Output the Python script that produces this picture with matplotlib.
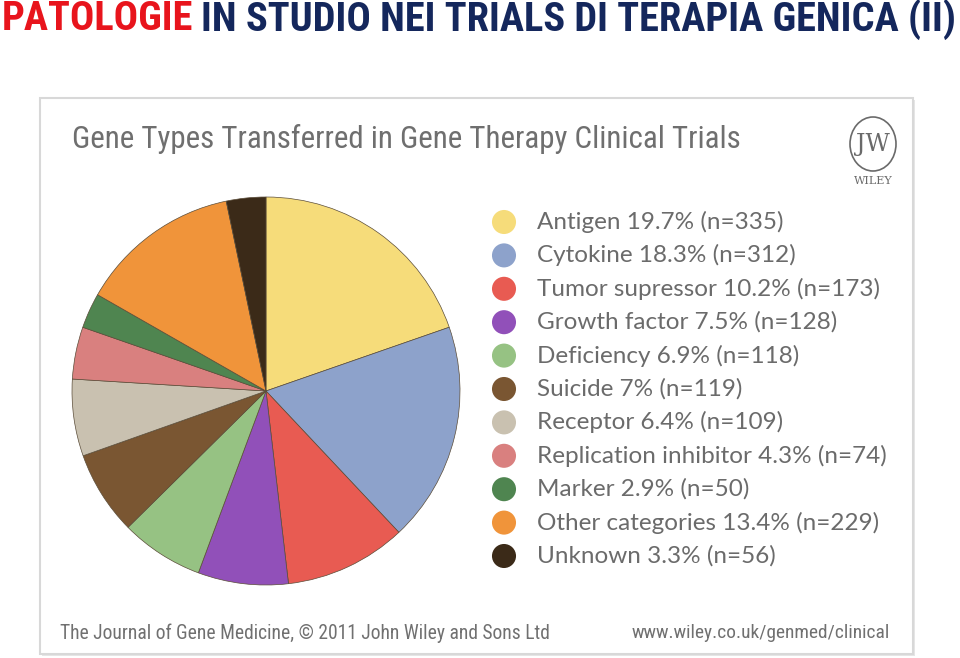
import matplotlib
matplotlib.use("Agg")
import matplotlib.pyplot as plt
from matplotlib.patches import Rectangle, Ellipse
from matplotlib import font_manager

W, H = 960, 658
DPI = 100

fl = font_manager.fontManager.ttflist
names = {f.name for f in fl}
narrow_family, narrow_stretch = 'Liberation Sans', 'normal'
for cand in ['Liberation Sans Narrow', 'Roboto Condensed', 'Open Sans Condensed',
             'Noto Sans Condensed', 'DejaVu Sans Condensed']:
    if cand in names:
        narrow_family = cand
        break
else:
    for f in fl:
        if str(f.stretch) in ('condensed', 'semi-condensed', '500', '400') and f.name in (
                'DejaVu Sans', 'Noto Sans', 'Open Sans', 'Roboto'):
            if str(f.stretch) in ('condensed', 'semi-condensed'):
                narrow_family, narrow_stretch = f.name, f.stretch
                break
body = 'Lato'

categories = ["Antigen", "Cytokine", "Tumor supressor", "Growth factor", "Deficiency",
              "Suicide", "Receptor", "Replication inhibitor", "Marker",
              "Other categories", "Unknown"]
percent_labels = ["19.7%", "18.3%", "10.2%", "7.5%", "6.9%", "7%", "6.4%", "4.3%",
                  "2.9%", "13.4%", "3.3%"]
counts = [335, 312, 173, 128, 118, 119, 109, 74, 50, 229, 56]
colors = ["#F6DC7A", "#8DA2CB", "#E85B52", "#9150B9", "#96C283", "#7A5632",
          "#C9C1B0", "#D9807F", "#4F8550", "#F0943A", "#3B2A18"]

fig = plt.figure(figsize=(W / DPI, H / DPI), dpi=DPI)
fig.patch.set_facecolor("white")

ov = fig.add_axes([0, 0, 1, 1])
ov.set_xlim(0, W)
ov.set_ylim(H, 0)
ov.axis("off")

ov.add_patch(Rectangle((42, 100), 873, 556, facecolor="#e6e6e6", edgecolor="none", zorder=0))
ov.add_patch(Rectangle((40, 98), 873, 556, facecolor="white", edgecolor="#d8d8d8", lw=1.5, zorder=1))

renderer = fig.canvas.get_renderer()


def fit_text(x, y, s, target_w, size0=20, **kw):
    t = ov.text(x, y, s, fontsize=size0, **kw)
    w = t.get_window_extent(renderer=renderer).width
    t.set_fontsize(size0 * target_w / w)
    return t


nkw = dict(family=narrow_family, fontstretch=narrow_stretch)

# header title
t1 = ov.text(2, 19, "PATOLOGIE", fontsize=30, fontweight="bold", **nkw,
             color="#E8141C", va="center", ha="left", zorder=3)
w1 = t1.get_window_extent(renderer=renderer).width
t2 = ov.text(2 + w1 + 8, 19, "IN STUDIO NEI TRIALS DI TERAPIA GENICA (II)", fontsize=30,
             fontweight="bold", **nkw, color="#14275C", va="center", ha="left", zorder=3)
wt = t2.get_window_extent(renderer=renderer).width
scale = (955 - 2) / (w1 + 8 + wt)
t1.set_fontsize(30 * scale)
w1 = t1.get_window_extent(renderer=renderer).width
t2.set_fontsize(30 * scale)
t2.set_x(2 + w1 + 8 * scale)

# chart title
fit_text(72, 139, "Gene Types Transferred in Gene Therapy Clinical Trials", 668,
         **nkw, color="#6f6f6f", va="center", ha="left", zorder=3)

# logo
ov.add_patch(Ellipse((873, 144), 46, 54, facecolor="none", edgecolor="#6a6a6a", lw=1.2, zorder=3))
ov.text(873, 144, "JW", fontsize=17, family="DejaVu Serif", color="#6a6a6a",
        ha="center", va="center", zorder=3)
ov.text(873, 181, "WILEY", fontsize=8, family="DejaVu Serif", color="#6a6a6a",
        ha="center", va="center", zorder=3)

# footer
fit_text(60, 633, "The Journal of Gene Medicine, \u00a9 2011 John Wiley and Sons Ltd", 490,
         **nkw, color="#707070", va="center", ha="left", zorder=3)
fit_text(890, 633, "www.wiley.co.uk/genmed/clinical", 258,
         **nkw, color="#707070", va="center", ha="right", zorder=3)

# legend
y0, dy = 222, 33.4
for i, (c, p, n, col) in enumerate(zip(categories, percent_labels, counts, colors)):
    y = y0 + i * dy
    ov.scatter([504], [y], s=300, color=col, edgecolors="none", zorder=3)
    ov.text(537, y, f"{c} {p} (n={n})", fontsize=17.5, family=body, color="#6b6b6b",
            va="center", ha="left", zorder=3)

# pie
cx, cy, r = 266, 391, 194
pax = fig.add_axes([(cx - r) / W, 1 - (cy + r) / H, 2 * r / W, 2 * r / H])
pax.pie(counts, colors=colors, startangle=90, counterclock=False,
        wedgeprops=dict(edgecolor="#5a4c38", linewidth=0.5))
pax.set_xlim(-1, 1)
pax.set_ylim(-1, 1)
pax.set_aspect("equal")
pax.axis("off")

fig.savefig("out.png", dpi=DPI, facecolor="white")
